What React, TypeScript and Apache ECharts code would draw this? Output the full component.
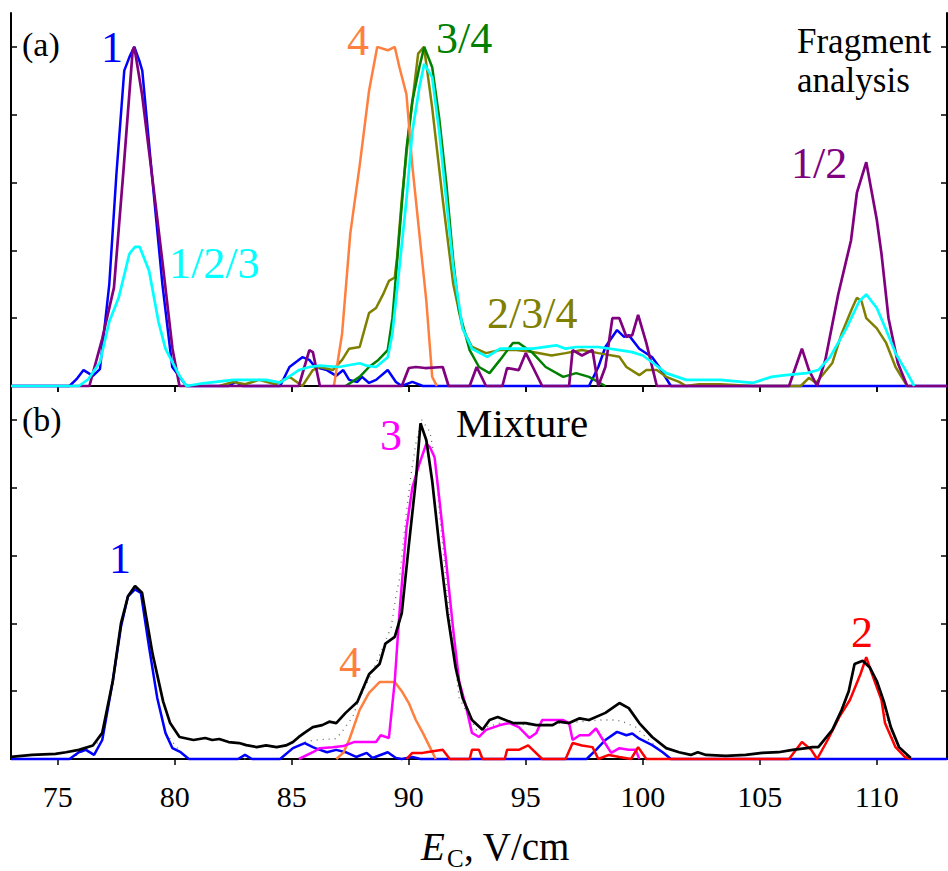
import React, { useEffect, useRef } from "react";
import * as echarts from "echarts";

const X_MIN = 73;
const X_MAX = 113;
const Y_MAX = 1.1;
const xTicks = [75, 80, 85, 90, 95, 100, 105, 110];
const yTicks = [0.2, 0.4, 0.6, 0.8, 1.0];

// ---------- Panel (a): fragment analysis ----------
const fragA1: [number, number][] = [
  [73, 0], [75.5, 0], [75.8, 0.02], [76.1, 0.047], [76.5, 0.03], [76.8, 0.05], [77.2, 0.3], [77.5, 0.62],
  [77.84, 0.93], [78.06, 0.97], [78.27, 1.0], [78.48, 0.96], [78.61, 0.93], [79.04, 0.61], [79.47, 0.3],
  [79.89, 0.056], [80.5, 0], [82.3, 0], [82.6, 0.012], [82.9, 0], [84.5, 0], [84.9, 0.056], [85.45, 0.085],
  [85.75, 0.077], [86.0, 0.056], [86.5, 0.047], [86.9, 0.03], [87.2, 0.047], [87.45, 0.018], [87.8, 0.012],
  [88.0, 0.027], [88.3, 0.009], [88.6, 0.018], [89.1, 0.047], [89.45, 0.012], [89.7, 0], [90.15, 0.012],
  [90.6, 0], [97.7, 0], [98.1, 0.056], [98.4, 0.115], [98.9, 0.165], [99.2, 0.145], [99.4, 0.15],
  [99.85, 0.11], [100.4, 0.085], [100.7, 0.056], [101.2, 0], [113, 0],
];

const fragA12: [number, number][] = [
  [73, 0], [76.35, 0], [76.9, 0.14], [77.4, 0.29], [77.8, 0.63], [78.2, 0.99], [78.27, 1.0], [78.6, 0.86],
  [79.1, 0.58], [79.5, 0.35], [79.9, 0.11], [80.2, 0], [85.3, 0], [85.75, 0.106], [85.9, 0.1], [86.2, 0],
  [89.7, 0], [90.0, 0.053], [90.3, 0.056], [90.7, 0.053], [91.45, 0.056], [91.7, 0], [92.6, 0],
  [92.9, 0.056], [93.3, 0], [94.0, 0], [94.2, 0.053], [94.7, 0.047], [95.0, 0.097], [95.3, 0.056],
  [95.7, 0], [96.85, 0], [97.0, 0.106], [97.4, 0.09], [97.85, 0.106], [98.1, 0], [98.4, 0.056],
  [98.7, 0.2], [99.0, 0.2], [99.3, 0.145], [99.55, 0.15], [99.8, 0.21], [100.15, 0.127], [100.6, 0],
  [106.25, 0], [106.8, 0.11], [107.1, 0.047], [107.45, 0], [107.8, 0.077], [108.35, 0.27], [108.9, 0.43],
  [109.15, 0.57], [109.55, 0.66], [110.0, 0.49], [110.2, 0.39], [110.5, 0.2], [110.9, 0.068], [111.3, 0],
  [113, 0],
];

const fragA123: [number, number][] = [
  [73, 0], [75.9, 0], [76.3, 0.02], [76.8, 0.07], [77.2, 0.19], [77.6, 0.26], [78.06, 0.39], [78.3, 0.41],
  [78.5, 0.41], [78.9, 0.34], [79.3, 0.19], [79.6, 0.11], [80.2, 0.03], [80.5, 0], [81.2, 0.008],
  [82.5, 0.018], [83.9, 0.018], [84.5, 0.01], [85.3, 0.047], [85.75, 0.056], [86.2, 0.06], [87.0, 0.056],
  [87.9, 0.067], [88.2, 0.06], [88.6, 0.056], [89.1, 0.085], [89.3, 0.155], [89.6, 0.35], [89.9, 0.55],
  [90.15, 0.75], [90.45, 0.88], [90.66, 0.95], [91.0, 0.91], [91.3, 0.75], [91.6, 0.55], [91.9, 0.35],
  [92.3, 0.17], [92.7, 0.11], [93.35, 0.086], [93.9, 0.11], [94.6, 0.11], [95.3, 0.11], [96.3, 0.12],
  [96.7, 0.11], [97.15, 0.115], [98.1, 0.115], [99.0, 0.106], [99.55, 0.1], [100.0, 0.09], [100.4, 0.07],
  [101.0, 0.038], [101.85, 0.018], [103.3, 0.018], [104.7, 0.009], [105.5, 0.027], [106.1, 0.032],
  [107.0, 0.038], [107.5, 0.047], [108.0, 0.085], [108.7, 0.17], [109.25, 0.25], [109.55, 0.27],
  [110.0, 0.23], [110.4, 0.165], [110.8, 0.097], [111.3, 0.038], [111.6, 0],
];

const fragA4: [number, number][] = [
  [86.8, 0], [87.15, 0.155], [87.5, 0.45], [87.9, 0.65], [88.3, 0.87], [88.65, 1.0], [89.1, 0.99],
  [89.4, 1.0], [89.6, 0.94], [89.9, 0.86], [90.15, 0.65], [90.45, 0.45], [90.75, 0.25], [91.0, 0.027],
  [91.2, 0],
];

const fragA34: [number, number][] = [
  [87.3, 0], [87.9, 0.027], [88.3, 0.056], [88.7, 0.077], [89.1, 0.106], [89.3, 0.2], [89.6, 0.45],
  [89.9, 0.7], [90.15, 0.84], [90.45, 0.94], [90.66, 1.0], [91.0, 0.94], [91.3, 0.79], [91.6, 0.6],
  [91.9, 0.37], [92.15, 0.22], [92.6, 0.106], [93.0, 0.056], [93.45, 0.038], [93.9, 0.077], [94.45, 0.127],
  [94.7, 0.127], [95.3, 0.097], [95.85, 0.056], [96.6, 0.027], [97.15, 0.038], [97.7, 0.027], [98.4, 0],
];

const fragA234: [number, number][] = [
  [81.9, 0], [82.5, 0.012], [83.0, 0.005], [83.6, 0.018], [84.3, 0.005], [84.9, 0.027], [85.45, 0],
  [85.9, 0.047], [86.2, 0.056], [86.75, 0.047], [87.15, 0.077], [87.45, 0.11], [87.9, 0.115], [88.3, 0.215],
  [88.6, 0.23], [88.9, 0.27], [89.15, 0.31], [89.4, 0.32], [89.5, 0.38], [89.7, 0.55], [90.0, 0.75],
  [90.4, 0.98], [90.65, 1.0], [91.0, 0.82], [91.45, 0.55], [91.9, 0.3], [92.3, 0.17], [92.7, 0.115],
  [93.3, 0.097], [93.9, 0.106], [94.6, 0.106], [95.3, 0.1], [96.1, 0.09], [96.7, 0.097], [97.4, 0.106],
  [98.1, 0.097], [99.0, 0.086], [99.3, 0.056], [99.85, 0.032], [100.15, 0.047], [100.6, 0.047],
  [101.0, 0.027], [101.55, 0.012], [101.85, 0], [102.4, 0.005], [103.3, 0.005], [104.7, 0], [106.75, 0],
  [107.1, 0.024], [107.4, 0.009], [108.1, 0.068], [108.5, 0.155], [108.95, 0.23], [109.15, 0.26],
  [109.35, 0.25], [109.55, 0.2], [110.0, 0.17], [110.4, 0.127], [110.8, 0.056], [111.3, 0],
];

// ---------- Panel (b): mixture ----------
const mixB1: [number, number][] = [
  [73, 0], [75.5, 0], [75.9, 0.02], [76.2, 0.027], [76.55, 0.012], [76.9, 0.056], [77.35, 0.23],
  [77.7, 0.39], [78.0, 0.48], [78.3, 0.5], [78.55, 0.49], [78.9, 0.33], [79.25, 0.18], [79.6, 0.077],
  [79.9, 0.032], [80.25, 0.02], [80.6, 0], [82.7, 0], [83.0, 0.012], [83.3, 0], [84.5, 0], [85.05, 0.032],
  [85.55, 0.047], [85.9, 0.035], [86.0, 0.032], [86.5, 0.02], [86.9, 0.027], [87.3, 0.02], [87.75, 0.006],
  [88.2, 0.018], [88.45, 0.003], [89.1, 0.02], [89.45, 0.003], [89.7, 0], [90.15, 0.006], [90.5, 0],
  [97.6, 0], [98.0, 0.027], [98.4, 0.056], [98.9, 0.08], [99.3, 0.07], [99.55, 0.075], [99.85, 0.06],
  [100.4, 0.041], [100.85, 0.02], [101.2, 0], [113, 0],
];

const mixB4: [number, number][] = [
  [86.9, 0], [87.2, 0.018], [87.45, 0.056], [87.9, 0.145], [88.3, 0.195], [88.75, 0.227], [89.4, 0.227],
  [89.7, 0.2], [90.0, 0.165], [90.3, 0.115], [90.6, 0.077], [90.9, 0.035], [91.15, 0],
];

const mixB3: [number, number][] = [
  [85.3, 0], [85.9, 0.02], [86.2, 0.032], [86.75, 0.035], [87.2, 0.038], [87.65, 0.05], [88.1, 0.05],
  [88.6, 0.05], [88.8, 0.07], [89.15, 0.062], [89.4, 0.23], [89.6, 0.43], [89.9, 0.68], [90.15, 0.8],
  [90.45, 0.87], [90.75, 0.93], [90.9, 0.92], [91.1, 0.89], [91.3, 0.77], [91.6, 0.58], [91.9, 0.38],
  [92.15, 0.23], [92.45, 0.153], [92.7, 0.077], [93.0, 0.065], [93.3, 0.086], [93.9, 0.1], [94.3, 0.106],
  [94.7, 0.094], [95.15, 0.062], [95.45, 0.077], [95.7, 0.115], [96.3, 0.115], [96.6, 0.115],
  [96.85, 0.106], [97.0, 0.056], [97.3, 0.07], [97.7, 0.07], [98.0, 0.09], [98.3, 0.056], [98.65, 0.018],
  [99.0, 0.032], [99.4, 0.027], [99.7, 0.027], [99.85, 0],
];

const mixB2: [number, number][] = [
  [89.9, 0], [90.15, 0.018], [90.6, 0.018], [90.75, 0.02], [91.45, 0.027], [91.75, 0], [92.6, 0],
  [92.7, 0.027], [93.0, 0.027], [93.15, 0], [94.1, 0], [94.2, 0.027], [94.7, 0.027], [95.1, 0.04],
  [95.3, 0.027], [95.7, 0], [96.7, 0], [97.0, 0.047], [97.4, 0.04], [97.85, 0.035], [98.1, 0],
  [98.55, 0.012], [99.0, 0.006], [99.5, 0], [99.8, 0.035], [100.15, 0], [106.25, 0], [106.8, 0.05],
  [107.2, 0.027], [107.45, 0], [107.9, 0.056], [108.4, 0.124], [108.85, 0.174], [109.3, 0.25],
  [109.55, 0.3], [109.8, 0.25], [110.2, 0.174], [110.35, 0.106], [110.8, 0.035], [111.2, 0.006],
  [111.45, 0],
];

const mixMeasured: [number, number][] = [
  [73.0, 0.006], [73.9, 0.012], [74.9, 0.015], [75.35, 0.02], [75.9, 0.027], [76.5, 0.04], [76.9, 0.077],
  [77.35, 0.23], [77.7, 0.4], [78.0, 0.48], [78.3, 0.51], [78.6, 0.49], [79.05, 0.31], [79.5, 0.17],
  [79.8, 0.106], [80.2, 0.065], [80.8, 0.056], [81.3, 0.062], [81.6, 0.056], [81.9, 0.059], [82.3, 0.05],
  [82.75, 0.047], [83.05, 0.041], [83.5, 0.035], [83.9, 0.04], [84.35, 0.035], [84.75, 0.04],
  [85.05, 0.05], [85.3, 0.065], [85.6, 0.08], [85.9, 0.094], [86.3, 0.1], [86.6, 0.11], [86.9, 0.106],
  [87.3, 0.136], [87.8, 0.168], [88.3, 0.25], [88.75, 0.28], [89.0, 0.34], [89.4, 0.36], [89.7, 0.43],
  [90.0, 0.63], [90.3, 0.82], [90.5, 0.99], [90.75, 0.94], [91.0, 0.82], [91.3, 0.63], [91.65, 0.43],
  [92.0, 0.27], [92.3, 0.18], [92.7, 0.115], [93.15, 0.086], [93.45, 0.115], [93.8, 0.124],
  [94.45, 0.106], [95.0, 0.106], [95.45, 0.1], [96.15, 0.1], [96.4, 0.11], [96.85, 0.106], [97.3, 0.12],
  [97.7, 0.115], [98.4, 0.136], [99.0, 0.165], [99.4, 0.15], [99.85, 0.106], [100.4, 0.065],
  [101.0, 0.032], [101.55, 0.02], [102.05, 0.012], [102.35, 0.02], [102.7, 0.012], [103.55, 0.009],
  [104.4, 0.012], [105.1, 0.018], [105.8, 0.02], [106.4, 0.027], [107.0, 0.032], [107.25, 0.035],
  [107.5, 0.035], [108.1, 0.086], [108.5, 0.145], [108.8, 0.2], [109.05, 0.28], [109.4, 0.29],
  [109.7, 0.27], [110.0, 0.23], [110.3, 0.17], [110.6, 0.094], [110.95, 0.035], [111.45, 0.003],
];

const mixFit: [number, number][] = [
  [73, 0], [75.5, 0], [76.2, 0.027], [76.9, 0.056], [77.35, 0.23], [77.7, 0.39], [78.0, 0.48], [78.3, 0.5],
  [78.55, 0.49], [78.9, 0.33], [79.25, 0.18], [79.6, 0.077], [80.25, 0.02], [80.6, 0], [84.5, 0],
  [85.05, 0.032], [85.55, 0.05], [86.0, 0.056], [86.9, 0.06], [87.2, 0.086], [87.6, 0.124], [87.9, 0.18],
  [88.4, 0.25], [88.9, 0.33], [89.25, 0.39], [89.45, 0.48], [89.6, 0.53], [89.9, 0.73], [90.1, 0.84],
  [90.3, 0.93], [90.55, 1.0], [90.9, 0.965], [91.15, 0.87], [91.3, 0.73], [91.45, 0.63], [91.65, 0.48],
  [91.9, 0.33], [92.15, 0.18], [92.9, 0.086], [93.9, 0.106], [95.3, 0.1], [96.7, 0.106], [98.1, 0.115],
  [98.85, 0.115], [99.15, 0.11], [99.7, 0.094], [100.05, 0.07], [100.4, 0.047], [100.85, 0.018],
  [101.2, 0], [106.25, 0], [106.8, 0.05], [107.2, 0.027], [107.45, 0], [107.9, 0.056], [108.4, 0.124],
  [108.85, 0.174], [109.3, 0.25], [109.55, 0.3], [109.8, 0.25], [110.2, 0.174], [110.8, 0.035],
  [111.45, 0],
];

const SERIF = "Liberation Serif";

export default function App() {
  const ref = useRef<HTMLDivElement>(null);

  useEffect(() => {
    if (!ref.current) return;
    const chart = echarts.init(ref.current, null, { renderer: "svg" });

    const axisLine = { show: true, lineStyle: { color: "#000", width: 2 } };
    const tickStyle = { color: "#000", width: 1.5 };

    const xAxisBase = {
      type: "value",
      min: X_MIN,
      max: X_MAX,
      splitLine: { show: false },
      axisLine,
    };
    const yAxisBase = {
      type: "value",
      min: 0,
      max: Y_MAX,
      splitLine: { show: false },
      axisLine,
      axisLabel: { show: false },
      axisTick: { show: true, inside: true, length: 6, lineStyle: tickStyle, customValues: yTicks },
    };

    const line = (data: [number, number][], color: string, panel: number, width = 2.5, extra: any = {}) => ({
      type: "line",
      data,
      xAxisIndex: panel * 2,
      yAxisIndex: panel * 2,
      showSymbol: false,
      symbol: "none",
      silent: true,
      clip: false,
      lineStyle: { color, width, ...extra },
      itemStyle: { color },
    });

    const txt = (text: string, x: number, y: number, size: number, color: string, extraStyle: any = {}) => ({
      type: "text",
      x,
      y,
      silent: true,
      z: 100,
      style: {
        text,
        fill: color,
        fontFamily: SERIF,
        fontSize: size,
        align: "left",
        verticalAlign: "middle",
        ...extraStyle,
      },
    });

    const option: any = {
      animation: false,
      backgroundColor: "#fff",
      textStyle: { fontFamily: SERIF },
      grid: [
        { left: 11, top: 13, width: 936, height: 373 },
        { left: 11, top: 386, width: 936, height: 373 },
      ],
      xAxis: [
        {
          ...xAxisBase,
          gridIndex: 0,
          position: "bottom",
          axisLabel: { show: false },
          axisTick: { show: true, inside: false, length: 6, lineStyle: tickStyle, customValues: xTicks },
        },
        {
          ...xAxisBase,
          gridIndex: 0,
          position: "top",
          axisLabel: { show: false },
          axisTick: { show: true, inside: true, length: 6, lineStyle: tickStyle, customValues: xTicks },
        },
        {
          ...xAxisBase,
          gridIndex: 1,
          position: "bottom",
          axisLabel: {
            show: true,
            customValues: xTicks,
            color: "#000",
            fontFamily: SERIF,
            fontSize: 30,
            margin: 22,
          },
          axisTick: { show: true, inside: false, length: 6, lineStyle: tickStyle, customValues: xTicks },
        },
        {
          ...xAxisBase,
          gridIndex: 1,
          position: "top",
          axisLabel: { show: false },
          axisTick: { show: false },
        },
      ],
      yAxis: [
        { ...yAxisBase, gridIndex: 0, position: "left" },
        { ...yAxisBase, gridIndex: 0, position: "right" },
        { ...yAxisBase, gridIndex: 1, position: "left" },
        { ...yAxisBase, gridIndex: 1, position: "right" },
      ],
      series: [
        line(fragA1, "#0000ff", 0),
        line(fragA234, "#808000", 0),
        line(fragA34, "#008000", 0),
        line(fragA4, "#ff7f3f", 0),
        line(fragA12, "#800080", 0, 2.7),
        line(fragA123, "#00ffff", 0, 2.7),
        line(mixFit, "#666666", 1, 1.3, { type: [1, 5] }),
        line(mixB1, "#0000ff", 1),
        line(mixB4, "#ff7f3f", 1),
        line(mixB3, "#ff00ff", 1),
        line(mixB2, "#ff0000", 1),
        line(mixMeasured, "#000000", 1, 2.7),
      ],
      graphic: [
        txt("(a)", 22, 44, 34, "#000"),
        txt("1", 101, 47, 44, "#0000ff"),
        txt("1/2/3", 169, 263, 44, "#00ffff"),
        txt("4", 347, 40, 44, "#ff7f3f"),
        txt("3/4", 436, 38, 44, "#008000"),
        txt("2/3/4", 487, 313, 44, "#808000"),
        txt("Fragment", 797, 41, 35, "#000"),
        txt("analysis", 797, 80, 35, "#000"),
        txt("1/2", 791, 163, 44, "#800080"),
        txt("(b)", 22, 419, 34, "#000"),
        txt("Mixture", 456, 423, 41, "#000"),
        txt("3", 380, 435, 44, "#ff00ff"),
        txt("4", 339, 662, 44, "#ff7f3f"),
        txt("1", 109, 558, 44, "#0000ff"),
        txt("2", 851, 632, 44, "#ff0000"),
        txt("E", 421, 846, 39, "#000", { fontStyle: "italic" }),
        txt("C", 447, 858, 25, "#000"),
        txt(", V/cm", 464, 846, 39, "#000"),
      ],
    };

    chart.setOption(option);
    return () => chart.dispose();
  }, []);

  return (
    <div
      ref={ref}
      style={{ position: "absolute", left: 0, top: 0, width: 948, height: 871, background: "#fff" }}
    />
  );
}
